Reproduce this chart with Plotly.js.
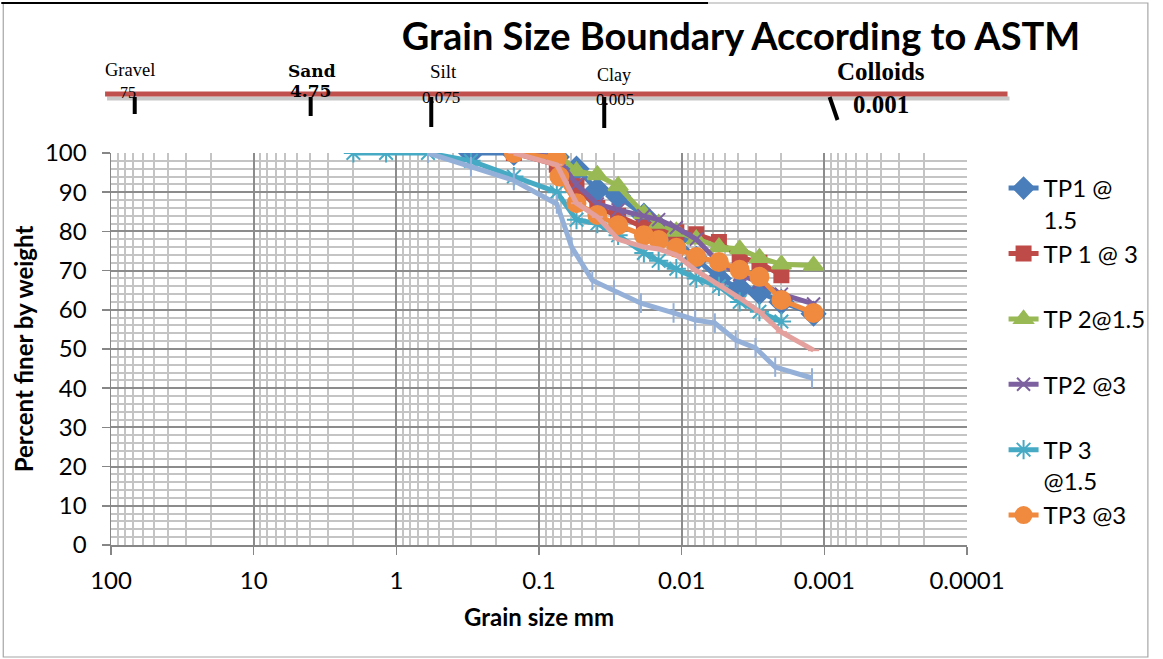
<!DOCTYPE html>
<html>
<head>
<meta charset="utf-8">
<script src="https://cdn.plot.ly/plotly-3.0.1.min.js"></script>
<style>
html,body{margin:0;padding:0;background:#fff;overflow:hidden;width:1163px;height:659px;}
#chart{position:absolute;left:0;top:0;width:1163px;height:659px;}
</style>
</head>
<body>
<div id="chart"></div>
<script>
// ---------- data ----------
const seriesNames = ["TP1 @<br>1.5", "TP 1 @ 3<br>&nbsp;", "TP 2@1.5<br>&nbsp;", "TP2 @3<br>&nbsp;", "TP 3<br>@1.5", "TP3 @3<br>&nbsp;"];

const tp1_15_x = [0.3, 0.15, 0.075, 0.0546, 0.039, 0.0279, 0.0184, 0.0145, 0.0109, 0.0079, 0.00548, 0.00392, 0.00285, 0.002, 0.00119];
const tp1_15_y = [100, 100, 99, 96, 90.6, 89, 84, 81, 78, 73, 68, 65.5, 64.5, 62, 59];

const tp1_3_x = [0.15, 0.075, 0.0546, 0.039, 0.0279, 0.0184, 0.0145, 0.0109, 0.0079, 0.00548, 0.00392, 0.00285, 0.002];
const tp1_3_y = [100, 97, 91.5, 86, 84, 81, 80, 79.8, 79.3, 77.3, 73.5, 72, 68.8];

const tp2_15_x = [0.075, 0.0546, 0.039, 0.0279, 0.0184, 0.0145, 0.0109, 0.0079, 0.00548, 0.00392, 0.00285, 0.002, 0.00119];
const tp2_15_y = [100, 95.4, 94.4, 91.6, 84.5, 82, 80, 78, 76, 75.5, 73.3, 71.6, 71.3];

const tp2_3_x = [0.15, 0.075, 0.0546, 0.039, 0.0279, 0.0184, 0.0145, 0.0109, 0.0079, 0.00548, 0.00392, 0.00285, 0.002, 0.00119];
const tp2_3_y = [100, 99, 92, 87, 85.5, 84, 83, 81, 78, 72, 69, 67, 64, 61.5];

const tp3_15_x = [2, 1.18, 0.6, 0.3, 0.15, 0.075, 0.0546, 0.039, 0.0279, 0.0184, 0.0145, 0.0109, 0.0079, 0.00548, 0.00392, 0.00285, 0.002];
const tp3_15_y = [100, 100, 100, 98, 94, 90, 83, 82, 79, 74.5, 72.5, 70.5, 68, 66, 62, 59.5, 57];

const tp3_3_x = [0.15, 0.075, 0.072, 0.0546, 0.039, 0.0279, 0.0184, 0.0145, 0.0109, 0.0079, 0.00548, 0.00392, 0.00285, 0.002, 0.00119];
const tp3_3_y = [100, 98.7, 94, 87.2, 84.2, 81.6, 79, 77.8, 75.8, 73.5, 72.2, 70.2, 68.4, 62.5, 59.2];

const extraA_x = [0.6, 0.3, 0.15, 0.075, 0.059, 0.0423, 0.0298, 0.0193, 0.0114, 0.00804, 0.00585, 0.00418, 0.00304, 0.00221, 0.00122];
const extraA_y = [100, 96.5, 93, 87, 76, 67.5, 65, 61.7, 59.2, 57.4, 56.6, 52.3, 50.3, 45.4, 42.6];

const extraB_x = [0.15, 0.075, 0.0546, 0.039, 0.0279, 0.0184, 0.0145, 0.0109, 0.0079, 0.00548, 0.00392, 0.00285, 0.002, 0.00119];
const extraB_y = [100, 97, 87.2, 83.7, 78, 76, 75.5, 74, 70, 66.5, 63, 59.5, 54.3, 49.7];

const xTickVals = [100, 10, 1, 0.1, 0.01, 0.001, 0.0001];
const xTickText = ["100", "10", "1", "0.1", "0.01", "0.001", "0.0001"];

// boundary band labels
const bandLabels = ["Gravel", "Sand", "Silt", "Clay", "Colloids"];
const bandSizes = ["75", "4.75", "0.075", "0.005", "0.001"];

// ---------- layout helpers (pixel -> paper) ----------
const W = 1163, H = 659;
const L = 111, R = 977, T = 153, B = 545;
const px = v => (v - L) / (R - L);
const py = v => (B - v) / (B - T);

const FONT = "Lato, 'Open Sans', sans-serif";
const SERIF = "'Liberation Serif', 'DejaVu Serif', serif";

function tr(name, x, y, color, symbol, msize, opts) {
  return Object.assign({
    type: 'scatter', mode: 'lines+markers', name: name, x: x, y: y,
    line: {color: color, width: 5},
    marker: {symbol: symbol, size: msize, color: color, line: {color: color, width: 2}}
  }, opts || {});
}

const traces = [
  tr(seriesNames[0], tp1_15_x, tp1_15_y, '#4A7EBB', 'diamond', 18),
  tr(seriesNames[1], tp1_3_x, tp1_3_y, '#BE4B48', 'square', 14),
  tr(seriesNames[2], tp2_15_x, tp2_15_y, '#98B954', 'triangle-up', 17),
  tr(seriesNames[3], tp2_3_x, tp2_3_y, '#7D60A0', 'x-thin-open', 13),
  tr(seriesNames[4], tp3_15_x, tp3_15_y, '#46AAC5', 'asterisk-open', 16),
  tr(seriesNames[5], tp3_3_x, tp3_3_y, '#F08A3E', 'circle', 18),
  tr('series 7', extraA_x, extraA_y, '#95B0D8', 'line-ns-open', 14, {showlegend: false}),
  tr('series 8', extraB_x, extraB_y, '#E3A09D', 'line-ew-open', 8, {showlegend: false})
];

const shapes = [];
const annotations = [];
// outer frame
shapes.push({type: 'rect', xref: 'paper', yref: 'paper', x0: px(2), x1: px(1160), y0: py(657), y1: py(3),
  line: {color: '#A6A6A6', width: 1.2}, fillcolor: 'rgba(0,0,0,0)', layer: 'below'});
shapes.push({type: 'line', xref: 'paper', yref: 'paper', x0: px(0), x1: px(715), y0: py(3), y1: py(3),
  line: {color: '#000', width: 2}});
// red band with shadow
shapes.push({type: 'line', xref: 'paper', yref: 'paper', x0: px(107), x1: px(1020), y0: py(98.5), y1: py(98.5),
  line: {color: '#C8C8C8', width: 4}});
shapes.push({type: 'line', xref: 'paper', yref: 'paper', x0: px(105), x1: px(1018), y0: py(94), y1: py(94),
  line: {color: '#C0504D', width: 5}});
// black boundary markers
const marks = [[135, 97, 135, 114], [313, 97, 313, 116], [435, 97, 435, 127], [610, 97, 610, 128], [838, 97, 846, 120]];
marks.forEach(m => shapes.push({type: 'line', xref: 'paper', yref: 'paper', x0: px(m[0]), x1: px(m[2]), y0: py(m[1]), y1: py(m[3]),
  line: {color: '#000', width: 4}}));

// band labels
const labelPos = [[130, 70, 18.5, false], [314, 71, 17, true], [447, 72, 19, false], [620, 75, 18, false], [890, 72, 25, true]];
const sizePos = [[128, 92, 16, false], [313, 91, 17, true], [445, 97, 17, false], [621, 99, 17, false], [890, 104, 25, true]];
bandLabels.forEach((t, i) => {
  const p = labelPos[i];
  annotations.push({xref: 'paper', yref: 'paper', x: px(p[0]), y: py(p[1]), text: p[3] ? '<b>' + t + '</b>' : t,
    showarrow: false, xanchor: 'center', yanchor: 'middle', borderpad: 0,
    font: {family: i === 1 ? "'DejaVu Serif', serif" : SERIF, size: p[2], color: '#000'}});
});
bandSizes.forEach((t, i) => {
  const p = sizePos[i];
  annotations.push({xref: 'paper', yref: 'paper', x: px(p[0]), y: py(p[1]), text: p[3] ? '<b>' + t + '</b>' : t,
    showarrow: false, xanchor: 'center', yanchor: 'middle', borderpad: 0,
    font: {family: i === 1 ? "'DejaVu Serif', serif" : SERIF, size: p[2], color: '#000'}});
});

const layout = {
  width: W, height: H,
  margin: {l: L, r: W - R, t: T, b: H - B, pad: 0},
  paper_bgcolor: '#fff', plot_bgcolor: '#fff',
  font: {family: FONT, color: '#000'},
  title: {text: '<b>Grain Size Boundary According to ASTM</b>', font: {family: FONT, size: 38, color: '#000'},
    xref: 'container', yref: 'container', x: 741 / W, y: 1 - 37 / H, xanchor: 'center', yanchor: 'middle'},
  showlegend: true,
  legend: {x: px(1014), y: py(166), xanchor: 'left', yanchor: 'top', valign: 'top',
    font: {family: FONT, size: 24, color: '#000'}, bgcolor: 'rgba(0,0,0,0)', borderwidth: 0, tracegroupgap: 0},
  xaxis: {
    type: 'log', range: [2, -4], autorange: false,
    tickmode: 'array', tickvals: xTickVals, ticktext: xTickText,
    ticks: 'outside', ticklen: 8, tickwidth: 1.5, tickcolor: '#868686',
    tickfont: {family: FONT, size: 24, color: '#000'}, ticklabelstandoff: 6,
    showgrid: true, gridcolor: '#8C8C8C', gridwidth: 2,
    minor: {dtick: 'D1', showgrid: true, gridcolor: '#C4C4C4', gridwidth: 2, ticks: ''},
    showline: true, linecolor: '#868686', linewidth: 1.5, mirror: false,
    zeroline: false,
    title: {text: '<b>Grain size mm</b>', font: {family: FONT, size: 24, color: '#000'}, standoff: 16}
  },
  yaxis: {
    range: [0, 100], autorange: false, dtick: 10, tick0: 0,
    ticks: 'outside', ticklen: 8, tickwidth: 1.5, tickcolor: '#868686',
    tickfont: {family: FONT, size: 24, color: '#000'}, ticklabelstandoff: 10,
    showgrid: true, gridcolor: '#8C8C8C', gridwidth: 2,
    minor: {dtick: 2, showgrid: true, gridcolor: '#C4C4C4', gridwidth: 2, ticks: ''},
    showline: true, linecolor: '#868686', linewidth: 1.5,
    zeroline: false,
    title: {text: '<b>Percent finer by weight</b>', font: {family: FONT, size: 24, color: '#000'}, standoff: 4}
  },
  shapes: shapes,
  annotations: annotations
};

Plotly.newPlot('chart', traces, layout, {displayModeBar: false, staticPlot: true});
</script>
</body>
</html>
